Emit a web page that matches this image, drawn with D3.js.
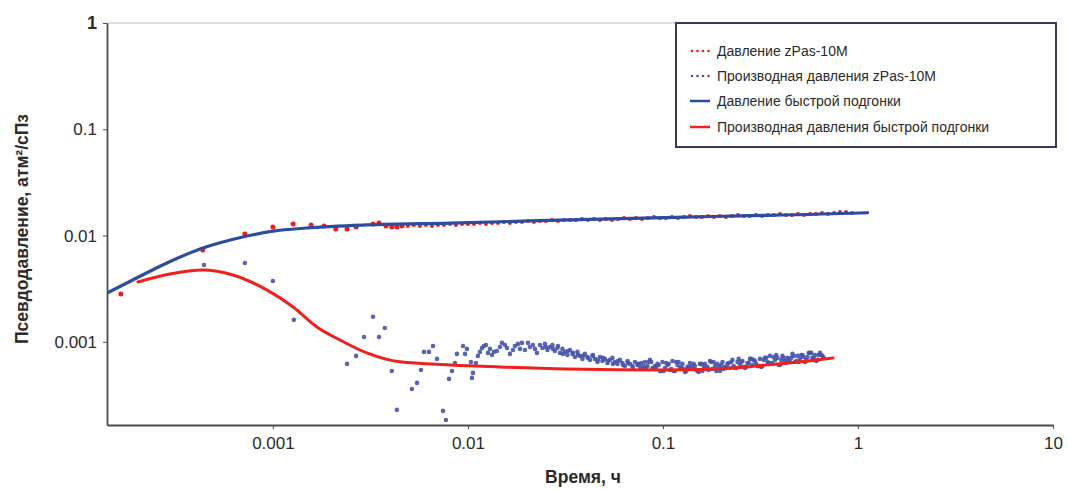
<!DOCTYPE html>
<html>
<head>
<meta charset="utf-8">
<script src="https://cdn.jsdelivr.net/npm/d3@7"></script>
<style>
  html, body { margin: 0; padding: 0; background: #ffffff; }
  svg { display: block; font-family: "Liberation Sans", Arial, sans-serif; }
</style>
</head>
<body>
<svg id="chart" width="1068" height="489"></svg>
<script>
// Axis settings
const timeDomain = [1.41e-4, 10];
const pressureDomain = [1.65e-4, 1];
const xTickValues = [0.001, 0.01, 0.1, 1, 10];
const xTickLabels = ["0.001", "0.01", "0.1", "1", "10"];
const yTickValues = [0.001, 0.01, 0.1, 1];
const yTickLabels = ["0.001", "0.01", "0.1", "1"];
const xTitle = "Время, ч";
const yTitle = "Псевдодавление, атм²/сПз";
const seriesNames = [
  "Давление zPas-10M",
  "Производная давления zPas-10M",
  "Давление быстрой подгонки",
  "Производная давления быстрой подгонки"
];

// Measured pseudo-pressure, [time h, value]
const pressureMeasured = [
  [1.66e-4, 0.00282], [4.37e-4, 0.00732], [7.18e-4, 0.01035], [0.001, 0.01205],
  [0.00127, 0.01285], [0.00157, 0.01259], [0.00183, 0.01231], [0.0021, 0.01154],
  [0.0024, 0.01154], [0.00267, 0.01205], [0.00326, 0.01285], [0.0035, 0.01315],
  [0.0038, 0.01231], [0.00407, 0.01205], [0.00432, 0.01205], [0.00459, 0.01231],
  [0.00492, 0.01231], [0.00528, 0.01258], [0.00567, 0.01231], [0.00609, 0.01258],
  [0.00654, 0.01231], [0.00702, 0.01258], [0.00753, 0.01258], [0.00809, 0.01285],
  [0.00868, 0.01258], [0.00932, 0.01285], [0.0100, 0.01285], [0.01074, 0.01285],
  [0.01152, 0.01314], [0.01237, 0.01285], [0.01328, 0.01314], [0.01425, 0.01314],
  [0.0153, 0.01342], [0.01642, 0.01314], [0.01763, 0.01342], [0.01892, 0.01342],
  [0.02031, 0.01372], [0.0218, 0.01342], [0.0234, 0.01372], [0.02512, 0.01372],
  [0.02696, 0.01402], [0.02894, 0.01372], [0.03106, 0.01402], [0.03334, 0.01402],
  [0.03579, 0.01402], [0.03842, 0.01433], [0.04124, 0.01402], [0.04426, 0.01433],
  [0.04751, 0.01402], [0.051, 0.01433], [0.05474, 0.01402], [0.05876, 0.01433],
  [0.0631, 0.01464], [0.06771, 0.01433], [0.07268, 0.01464], [0.07801, 0.01433],
  [0.08375, 0.01464], [0.0899, 0.01496], [0.09651, 0.01464], [0.1036, 0.01464],
  [0.1112, 0.01496], [0.1194, 0.01464], [0.1281, 0.01496], [0.1375, 0.01529],
  [0.1476, 0.01496], [0.1585, 0.01496], [0.1701, 0.01529], [0.1826, 0.01496],
  [0.196, 0.01529], [0.2104, 0.01496], [0.2259, 0.01529], [0.2424, 0.01562],
  [0.2602, 0.01529], [0.2793, 0.01529], [0.2998, 0.01562], [0.3219, 0.01529],
  [0.3455, 0.01562], [0.3709, 0.01562], [0.3981, 0.01596], [0.4273, 0.01562],
  [0.4587, 0.01562], [0.4924, 0.01596], [0.5285, 0.01562], [0.5673, 0.01596],
  [0.609, 0.01596], [0.6537, 0.01632], [0.7017, 0.01596], [0.7533, 0.01632],
  [0.8086, 0.0167], [0.8679, 0.0167], [0.9316, 0.01632]
];

// Measured pressure derivative, [time h, value]
const derivativeMeasured = [
  [4.43e-4, 0.00529], [7.18e-4, 0.00552], [0.001, 0.00374], [0.00128, 0.00161],
  [0.0024, 0.00062], [0.00267, 0.000737], [0.00293, 0.00111], [0.00326, 0.00172],
  [0.0035, 0.00111], [0.00375, 0.00135], [0.00407, 0.000532], [0.00432, 0.000229],
  [0.00516, 0.00036], [0.00548, 0.000411], [0.00574, 0.000544], [0.00595, 0.000804],
  [0.00631, 0.000804], [0.00662, 0.000915], [0.00694, 0.000691], [0.00745, 0.000224],
  [0.00771, 0.000184], [0.008, 0.000448], [0.00828, 0.000532], [0.00858, 0.000633],
  [0.00878, 0.00077], [0.00943, 0.000915], [0.00966, 0.00077], [0.00988, 0.000858],
  [0.01036, 0.000647], [0.01048, 0.000458], [0.01061, 0.00051], [0.01099, 0.000633],
  [0.01125, 0.000737], [0.01152, 0.000804], [0.0118, 0.000876], [0.01208, 0.000915],
  [0.01237, 0.000935], [0.01267, 0.000787], [0.01297, 0.000858], [0.01328, 0.000753],
  [0.0136, 0.000804], [0.01408, 0.000821], [0.01459, 0.000895], [0.01494, 0.000977],
  [0.01548, 0.000935], [0.01585, 0.000876], [0.01642, 0.00077], [0.01701, 0.000839],
  [0.01742, 0.000915], [0.01805, 0.000956], [0.01848, 0.000858], [0.01892, 0.000977],
  [0.0196, 0.000839], [0.02031, 0.000977], [0.02079, 0.000895], [0.02154, 0.000935],
  [0.02206, 0.000858], [0.02259, 0.000787], [0.0234, 0.000935],
  [0.0241, 0.000876], [0.02482, 0.000956], [0.02512, 0.000895], [0.02557, 0.000839],
  [0.02633, 0.000895], [0.02712, 0.000935], [0.02729, 0.000858], [0.02793, 0.000821],
  [0.02877, 0.000876], [0.02896, 0.000915], [0.02963, 0.000787], [0.03052, 0.000858],
  [0.0307, 0.00077], [0.03143, 0.000804], [0.03237, 0.000753], [0.03256, 0.000821],
  [0.03334, 0.000839], [0.03434, 0.00077], [0.03454, 0.000787], [0.03537, 0.000721],
  [0.03643, 0.000804], [0.03663, 0.000753], [0.03752, 0.000737], [0.03865, 0.000691],
  [0.03886, 0.000737], [0.0398, 0.00077], [0.04099, 0.000721], [0.04123, 0.000706],
  [0.04222, 0.000676], [0.04349, 0.000737], [0.04373, 0.000753], [0.04479, 0.000691],
  [0.04613, 0.000647], [0.0464, 0.000676], [0.04751, 0.000721], [0.04894, 0.000661],
  [0.04921, 0.000706], [0.0504, 0.000691], [0.05191, 0.000633], [0.0522, 0.000661],
  [0.05347, 0.000676], [0.05507, 0.000706], [0.05538, 0.00062], [0.05672, 0.000647],
  [0.05842, 0.00062], [0.05875, 0.000661], [0.06017, 0.000676], [0.06197, 0.000633],
  [0.06232, 0.000606], [0.06383, 0.000593], [0.06575, 0.000661], [0.06611, 0.000633],
  [0.06771, 0.00062], [0.06974, 0.000593], [0.07013, 0.000568], [0.07183, 0.000647],
  [0.07398, 0.000606], [0.0744, 0.00062], [0.0762, 0.000581],
  [0.0785, 0.000556], [0.0808, 0.000647], [0.0833, 0.000593], [0.0858, 0.000676],
  [0.0883, 0.000568], [0.091, 0.000593], [0.0937, 0.00062], [0.0965, 0.000532],
  [0.0994, 0.000647], [0.1024, 0.000568], [0.1055, 0.000606], [0.1086, 0.000544],
  [0.1119, 0.000661], [0.1152, 0.000532], [0.1187, 0.000606], [0.1222, 0.000568],
  [0.1259, 0.00062], [0.1297, 0.000521], [0.1336, 0.000581], [0.1375, 0.000633],
  [0.1417, 0.000556], [0.1459, 0.000593], [0.1503, 0.000532], [0.1548, 0.00062],
  [0.1594, 0.000532], [0.1642, 0.00062], [0.1691, 0.000581], [0.1742, 0.000661],
  [0.1794, 0.000556], [0.1848, 0.000593], [0.1903, 0.00062], [0.196, 0.000532],
  [0.2019, 0.000647], [0.2079, 0.000581], [0.2142, 0.00062], [0.2206, 0.000568],
  [0.2272, 0.000676], [0.234, 0.000568], [0.241, 0.000647], [0.2482, 0.000606],
  [0.2557, 0.000661], [0.2633, 0.000568], [0.2712, 0.000633], [0.2793, 0.000691],
  [0.2877, 0.000606], [0.2963, 0.000661], [0.3052, 0.000593], [0.3143, 0.000691],
  [0.3238, 0.000593], [0.3334, 0.000706], [0.3434, 0.000647], [0.3537, 0.000737],
  [0.3643, 0.00062], [0.3752, 0.000676], [0.3865, 0.000706], [0.398, 0.000606],
  [0.4099, 0.000737], [0.4222, 0.000661], [0.4349, 0.000706], [0.4479, 0.000647],
  [0.4613, 0.00077], [0.4751, 0.000647], [0.4894, 0.000737], [0.504, 0.000691],
  [0.5191, 0.000753], [0.5347, 0.000647], [0.5507, 0.000721], [0.5672, 0.000787],
  [0.5842, 0.000706], [0.6017, 0.000753], [0.6197, 0.000676], [0.6383, 0.000787],
  [0.6575, 0.000737],
  [0.0773, 0.000633], [0.082, 0.000568], [0.0871, 0.000647], [0.0924, 0.000581],
  [0.0979, 0.000532], [0.1039, 0.000633], [0.1102, 0.000556], [0.1169, 0.000647],
  [0.124, 0.000581], [0.1316, 0.000532], [0.1396, 0.000593], [0.1481, 0.000544],
  [0.1571, 0.00062], [0.1667, 0.000556], [0.1768, 0.000647], [0.1876, 0.000532],
  [0.1989, 0.000606], [0.211, 0.000568], [0.2239, 0.000647], [0.2375, 0.000568],
  [0.2519, 0.000647], [0.2673, 0.000581], [0.2835, 0.000691], [0.3008, 0.00062],
  [0.319, 0.000581], [0.3384, 0.000706], [0.359, 0.000633], [0.3808, 0.000753],
  [0.404, 0.000676], [0.4285, 0.000633], [0.4546, 0.000706], [0.4822, 0.000661],
  [0.5116, 0.000753], [0.5427, 0.000676], [0.5757, 0.000787], [0.6107, 0.000661],
  [0.6479, 0.000753],
  [0.0796, 0.000593], [0.0844, 0.000647], [0.0897, 0.000556], [0.0951, 0.000606],
  [0.1008, 0.000532], [0.107, 0.00062], [0.1135, 0.000532], [0.1204, 0.000647],
  [0.1277, 0.000556], [0.1355, 0.000581], [0.1437, 0.00062], [0.1525, 0.000521],
  [0.1618, 0.000593], [0.1716, 0.000544], [0.182, 0.000647], [0.1931, 0.000581],
  [0.2048, 0.000556], [0.2173, 0.000633], [0.2305, 0.000593], [0.2445, 0.000691],
  [0.2594, 0.000581], [0.2752, 0.000633], [0.2919, 0.000676], [0.3096, 0.000593],
  [0.3284, 0.000676], [0.3484, 0.000633], [0.3696, 0.000721], [0.3921, 0.000606],
  [0.4159, 0.000706], [0.4412, 0.000676], [0.4681, 0.000737], [0.4965, 0.000647],
  [0.5267, 0.000721], [0.5588, 0.000787], [0.5927, 0.000706], [0.6288, 0.000753],
  [0.667, 0.000706]
];

// Fast-fit model curves, [time h, value]
const pressureFit = [
  [1.41e-4, 0.00288], [1.91e-4, 0.00382], [2.86e-4, 0.00552], [4.23e-4, 0.00748],
  [7.0e-4, 0.0097], [0.001, 0.0110], [0.00149, 0.01178], [0.00303, 0.01259],
  [0.00809, 0.0131], [0.0475, 0.0143], [0.2, 0.0152], [1.02, 0.0163], [1.12, 0.0164]
];
const derivativeFit = [
  [2.03e-4, 0.00366], [2.96e-4, 0.00435], [4.37e-4, 0.00475], [6.24e-4, 0.00426],
  [9.3e-4, 0.00308], [1.27e-3, 0.00213], [1.68e-3, 0.00138], [2.21e-3, 0.00104],
  [3.03e-3, 0.000787], [4.48e-3, 0.000648], [8.09e-3, 0.000607], [0.0146, 0.000581],
  [0.0322, 0.000556], [0.105, 0.000544], [0.229, 0.000568], [0.341, 0.000607],
  [0.504, 0.000648], [0.745, 0.000706]
];

const colors = {
  pressureDots: "#ee1c1c",
  derivativeDots: "#4654aa",
  pressureLine: "#2e4c9e",
  derivativeLine: "#f0201c",
  axis: "#4a4a4a",
  text: "#2a2a2a"
};

const svg = d3.select("#chart");
const plot = { left: 107, right: 1053, top: 23, bottom: 425 };

const x = d3.scaleLog().domain(timeDomain).range([plot.left, plot.right]);
const y = d3.scaleLog().domain(pressureDomain).range([plot.bottom, plot.top]);

// top frame line
svg.append("line")
  .attr("x1", plot.left).attr("x2", plot.right)
  .attr("y1", plot.top).attr("y2", plot.top)
  .attr("stroke", "#b8b8b8").attr("stroke-width", 1);

// axes
const xAxis = svg.append("g")
  .attr("transform", `translate(0,${plot.bottom})`)
  .call(d3.axisBottom(x).tickValues(xTickValues)
    .tickFormat((d, i) => xTickLabels[i]).tickSizeInner(4).tickSizeOuter(0).tickPadding(8));
const yAxis = svg.append("g")
  .attr("transform", `translate(${plot.left},0)`)
  .call(d3.axisLeft(y).tickValues(yTickValues)
    .tickFormat((d, i) => yTickLabels[i]).tickSizeInner(4).tickSizeOuter(0).tickPadding(6));

[xAxis, yAxis].forEach(g => {
  g.select(".domain").attr("stroke", colors.axis).attr("stroke-width", 1.8);
  g.selectAll(".tick line").attr("stroke", colors.axis).attr("stroke-width", 1);
  g.selectAll(".tick text")
    .attr("fill", colors.text)
    .style("font-size", "17px")
    .style("font-family", "'Liberation Sans', Arial, sans-serif");
});
yAxis.selectAll(".tick text").filter(d => d === 1)
  .style("font-weight", "bold").style("font-size", "18px");

// axis titles
svg.append("text")
  .attr("x", 583).attr("y", 483)
  .attr("text-anchor", "middle")
  .attr("fill", colors.text)
  .style("font-size", "17.5px").style("font-weight", "bold")
  .text(xTitle);
svg.append("text")
  .attr("transform", "translate(28,229) rotate(-90)")
  .attr("text-anchor", "middle")
  .attr("fill", colors.text)
  .style("font-size", "17.5px").style("font-weight", "bold")
  .text(yTitle);

// measured points
svg.append("clipPath").attr("id", "plot-clip")
  .append("rect").attr("x", plot.left).attr("y", plot.top)
  .attr("width", plot.right - plot.left).attr("height", plot.bottom - plot.top);

const data = svg.append("g").attr("clip-path", "url(#plot-clip)");

data.append("g").selectAll("circle")
  .data(pressureMeasured).join("circle")
  .attr("cx", d => x(d[0])).attr("cy", d => y(d[1]))
  .attr("r", (d, i) => i < 16 ? 2.5 : 2)
  .attr("fill", colors.pressureDots);

data.append("g").selectAll("circle")
  .data(derivativeMeasured).join("circle")
  .attr("cx", d => x(d[0])).attr("cy", d => y(d[1]))
  .attr("r", 2.3)
  .attr("fill", colors.derivativeDots)
  .attr("fill-opacity", 0.9);

// fitted curves
const line = d3.line().x(d => x(d[0])).y(d => y(d[1])).curve(d3.curveMonotoneX);

data.append("path").datum(pressureFit)
  .attr("d", line).attr("fill", "none")
  .attr("stroke", colors.pressureLine).attr("stroke-width", 3.2)
  .attr("stroke-linecap", "round");

data.append("path").datum(derivativeFit)
  .attr("d", line).attr("fill", "none")
  .attr("stroke", colors.derivativeLine).attr("stroke-width", 3)
  .attr("stroke-linecap", "round");

// legend
const legend = svg.append("g");
legend.append("rect")
  .attr("x", 676).attr("y", 23).attr("width", 380).attr("height", 124)
  .attr("fill", "#ffffff").attr("stroke", "#343a55").attr("stroke-width", 2);

const legendRows = [51, 76, 101, 127];
const legendStyle = [
  { type: "dots", color: colors.pressureDots },
  { type: "dots", color: colors.derivativeDots },
  { type: "line", color: colors.pressureLine },
  { type: "line", color: colors.derivativeLine }
];
seriesNames.forEach((name, i) => {
  const ly = legendRows[i];
  const st = legendStyle[i];
  if (st.type === "dots") {
    legend.append("g").selectAll("circle")
      .data(d3.range(4)).join("circle")
      .attr("cx", k => 692 + k * 5.5).attr("cy", ly)
      .attr("r", 1.3).attr("fill", st.color);
  } else {
    legend.append("line")
      .attr("x1", 690).attr("x2", 710).attr("y1", ly).attr("y2", ly)
      .attr("stroke", st.color).attr("stroke-width", 2.5);
  }
  legend.append("text")
    .attr("x", 717).attr("y", ly).attr("dy", "0.35em")
    .attr("fill", colors.text)
    .style("font-size", "14px")
    .text(name);
});
</script>
</body>
</html>
